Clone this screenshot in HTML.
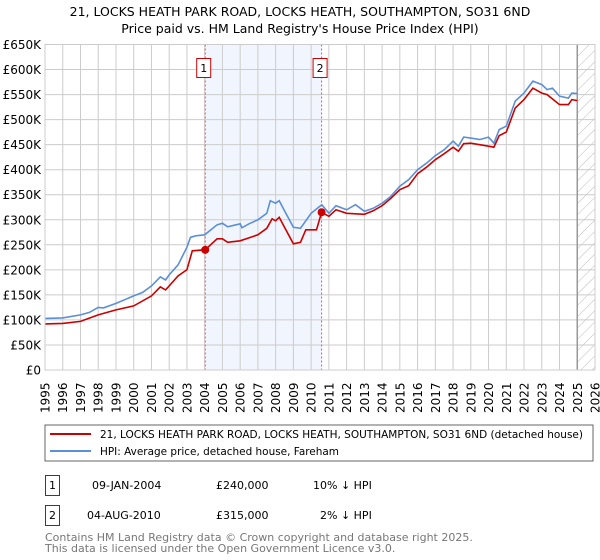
<!DOCTYPE html>
<html><head><meta charset="utf-8">
<style>
body{margin:0;background:#fff;font-family:"DejaVu Sans","Liberation Sans",sans-serif;}
#wrap{position:relative;width:600px;height:560px;overflow:hidden;}
</style></head>
<body>
<div id="wrap">
<svg id="chart" width="600" height="560" xmlns="http://www.w3.org/2000/svg">
<defs>
<pattern id="hatch" patternUnits="userSpaceOnUse" width="8" height="8" patternTransform="rotate(45)">
<line x1="0" y1="0" x2="0" y2="8" stroke="#bbb" stroke-width="1"/>
</pattern>
</defs>
<text x="300" y="16" text-anchor="middle" font-size="12.5" fill="#000">21, LOCKS HEATH PARK ROAD, LOCKS HEATH, SOUTHAMPTON, SO31 6ND</text>
<text x="300" y="33" text-anchor="middle" font-size="12.5" fill="#000">Price paid vs. HM Land Registry's House Price Index (HPI)</text>
<g id="plot"></g>
<rect x="45" y="425" width="548" height="36" fill="#fff" stroke="#666"/>
<line x1="50" y1="434" x2="91" y2="434" stroke="#cc0000" stroke-width="2"/>
<text x="100" y="438" font-size="11" textLength="483" lengthAdjust="spacingAndGlyphs">21, LOCKS HEATH PARK ROAD, LOCKS HEATH, SOUTHAMPTON, SO31 6ND (detached house)</text>
<line x1="50" y1="451" x2="91" y2="451" stroke="#5b8fd6" stroke-width="2"/>
<text x="100" y="455" font-size="11" textLength="239" lengthAdjust="spacingAndGlyphs">HPI: Average price, detached house, Fareham</text>
<g font-size="11">
<rect x="45.5" y="475.5" width="14" height="20" fill="#fff" stroke="#cc0000"/>
<text x="52.5" y="489" text-anchor="middle">1</text>
<text x="92" y="489">09-JAN-2004</text>
<text x="216" y="489">£240,000</text>
<text x="313" y="489">10% ↓ HPI</text>
<rect x="45.5" y="505.5" width="14" height="20" fill="#fff" stroke="#cc0000"/>
<text x="52.5" y="519" text-anchor="middle">2</text>
<text x="87" y="519">04-AUG-2010</text>
<text x="216" y="519">£315,000</text>
<text x="320" y="519">2% ↓ HPI</text>
</g>
<text x="45" y="541" font-size="11" fill="#777">Contains HM Land Registry data © Crown copyright and database right 2025.</text>
<text x="45" y="552" font-size="11" fill="#777">This data is licensed under the Open Government Licence v3.0.</text>
</svg>
</div>
<script>
const yTicks=[0,50,100,150,200,250,300,350,400,450,500,550,600,650];
const yTickLabels=["£0","£50K","£100K","£150K","£200K","£250K","£300K","£350K","£400K","£450K","£500K","£550K","£600K","£650K"];
const xYears=[1995,1996,1997,1998,1999,2000,2001,2002,2003,2004,2005,2006,2007,2008,2009,2010,2011,2012,2013,2014,2015,2016,2017,2018,2019,2020,2021,2022,2023,2024,2025,2026];
const hpiT=[1995,1996,1997,1997.5,1998,1998.3,1999,2000,2000.5,2001,2001.5,2001.8,2002,2002.5,2003,2003.2,2003.5,2004,2004.7,2005,2005.3,2006,2006.1,2006.5,2007,2007.5,2007.7,2008,2008.2,2008.5,2009,2009.4,2010,2010.6,2011,2011.4,2012,2012.5,2013,2013.5,2014,2014.5,2015,2015.5,2016,2016.5,2017,2017.5,2018,2018.3,2018.6,2019,2019.5,2020,2020.3,2020.6,2021,2021.5,2022,2022.5,2023,2023.3,2023.6,2024,2024.5,2024.7,2025];
const hpiV=[103,104,110,115,125,124,133,148,155,168,186,180,190,210,245,265,268,270,290,293,286,292,284,292,300,313,338,333,338,318,285,283,313,330,313,328,320,330,317,323,333,347,367,380,400,413,428,440,457,447,465,463,460,465,453,480,487,537,553,577,570,560,563,547,543,553,552];
const priceT=[1995,1996,1997,1998,1999,2000,2001,2001.5,2001.8,2002,2002.5,2003,2003.3,2004.03,2004.7,2005,2005.3,2006,2007,2007.5,2007.8,2008,2008.2,2008.5,2009,2009.4,2009.7,2010.3,2010.59,2011,2011.4,2012,2013,2013.5,2014,2014.5,2015,2015.5,2016,2016.5,2017,2017.5,2018,2018.3,2018.6,2019,2019.5,2020,2020.3,2020.6,2021,2021.5,2022,2022.5,2023,2023.3,2024,2024.5,2024.7,2025];
const priceV=[92,93,97,110,120,128,148,166,160,168,188,200,238,240,262,262,255,258,270,283,302,298,305,285,252,255,280,280,315,307,320,313,311,318,328,343,360,368,392,405,420,432,445,437,452,453,450,447,445,468,475,523,540,563,553,550,530,530,540,538];
const saleT=[2004.03,2010.59];
const saleV=[240,315];
const saleLabels=["1","2"];

const L=45,R=595,T=44.5,B=370;
const xS=t=>L+(t-1995)/(2026-1995)*(R-L);
const yS=v=>B-v/650*(B-T);
const NS="http://www.w3.org/2000/svg";
const g=document.getElementById('plot');
function mk(tag,attrs){const e=document.createElementNS(NS,tag);for(const k in attrs)e.setAttribute(k,attrs[k]);g.appendChild(e);return e;}

let sh=mk('rect',{x:xS(saleT[0]),y:T,width:xS(saleT[1])-xS(saleT[0]),height:B-T,fill:'#eef3fc',opacity:0.8});


let ht=mk('rect',{x:xS(2025),y:T,width:R-xS(2025),height:B-T,fill:'url(#hatch)'});



yTicks.forEach((v,i)=>{
  let l=mk('line',{x1:L,x2:R,y1:yS(v),y2:yS(v),stroke:'#ccc','stroke-width':1});
  
  
  let t=mk('text',{x:L-4,y:yS(v)+4.5,'text-anchor':'end','font-size':12,fill:'#000'});
  t.textContent=yTickLabels[i];
  
  
});
xYears.forEach(y=>{
  let l=mk('line',{x1:xS(y),x2:xS(y),y1:T,y2:B,stroke:'#ccc','stroke-width':1});
  
  
  let x=xS(y)+4.5, yy=413;
  let t=mk('text',{x:x,y:yy,'font-size':12,fill:'#000',transform:`rotate(-90 ${x} ${yy})`});
  t.textContent=y;
  
  
});
let vl=mk('line',{x1:xS(2025),x2:xS(2025),y1:T,y2:B,stroke:'#999','stroke-width':1.5});



saleT.forEach((t,i)=>{
  let l=mk('line',{x1:xS(t),x2:xS(t),y1:T,y2:B,stroke:'#e05555','stroke-width':1,'stroke-dasharray':'2,2'});
  
  
  let b=mk('rect',{x:xS(t)-8.5,y:58.5,width:14,height:19,fill:'#fff',stroke:'#cc0000'});
  
  
  let tx=mk('text',{x:xS(t)-1.5,y:72,'text-anchor':'middle','font-size':11,fill:'#000'});
  tx.textContent=saleLabels[i];
  
  
});

function path(ts,vs){return ts.map((t,i)=>(i?'L':'M')+xS(t).toFixed(1)+','+yS(vs[i]).toFixed(1)).join(' ');}
let hp=mk('path',{d:path(hpiT,hpiV),fill:'none',stroke:'#5b8fd6','stroke-width':1.6});


let pp=mk('path',{d:path(priceT,priceV),fill:'none',stroke:'#cc0000','stroke-width':1.6});


saleT.forEach((t,i)=>{
  let c=mk('circle',{cx:xS(t),cy:yS(saleV[i]),r:4,fill:'#cc0000'});
  
  
});
let ax=mk('rect',{x:L,y:T,width:R-L,height:B-T,fill:'none',stroke:'#ccc'});


</script>
</body></html>
